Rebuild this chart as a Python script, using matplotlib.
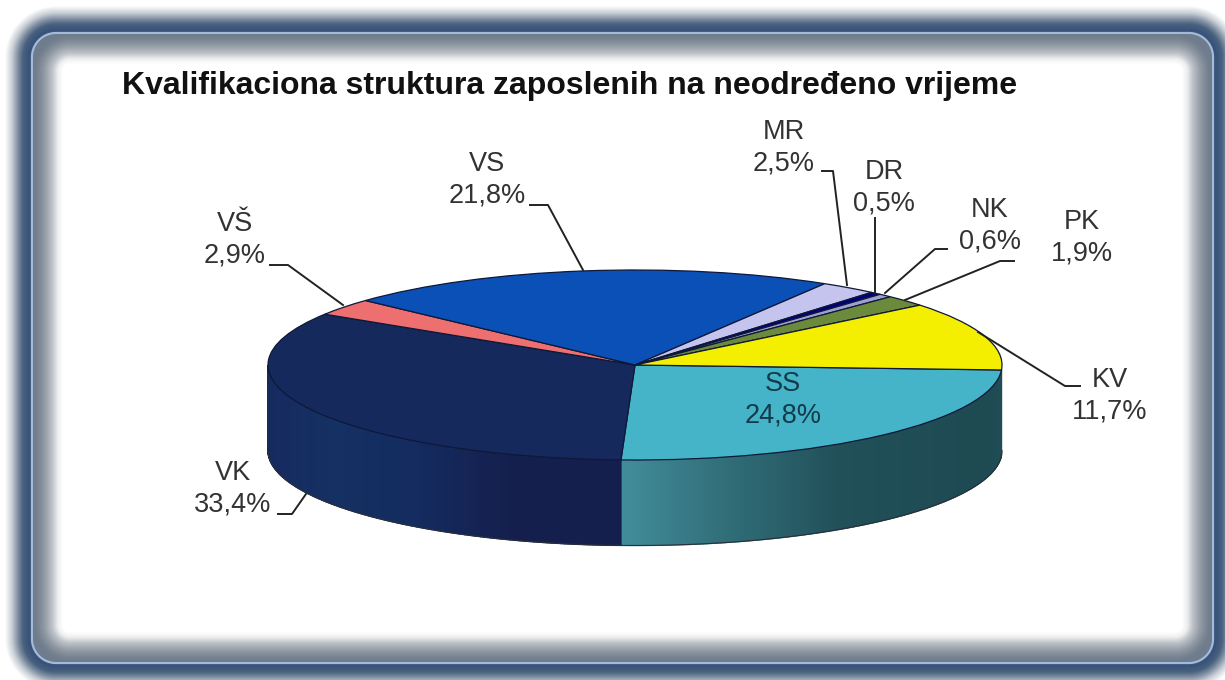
import numpy as np
import matplotlib
matplotlib.use("Agg")
import matplotlib.pyplot as plt
from matplotlib.colors import to_rgb

plt.rcParams['font.family'] = ['Liberation Sans', 'DejaVu Sans']

# data, clockwise from the right edge
labels = ['SS', 'VK', 'VŠ', 'VS', 'MR', 'DR', 'NK', 'PK', 'KV']
shares = [24.8, 33.4, 2.9, 21.8, 2.5, 0.5, 0.6, 1.9, 11.7]
title = 'Kvalifikaciona struktura zaposlenih na neodređeno vrijeme'

colors = ['#46b4c8', '#16295c', '#ee6f6f', '#0b50b6', '#c4c4ee',
          '#00007a', '#a0a0d0', '#6c8a3c', '#f4ee00']

W, H = 1225, 680
cx, cy, rx, ry = 635, 365, 367, 95
depth = 0.9
start = -3

fig = plt.figure(figsize=(W / 100, H / 100), dpi=100)

# frame: rounded box with soft shadow each side of the light line
bg = fig.add_axes([0, 0, 1, 1], zorder=0)
xx, yy = np.meshgrid(np.arange(W) + 0.5, np.arange(H) + 0.5)
x0, x1, y0, y1 = 32, 1213, 33, 663


def box_dist(rad):
    qx = np.abs(xx - (x0 + x1) / 2) - (x1 - x0) / 2 + rad
    qy = np.abs(yy - (y0 + y1) / 2) - (y1 - y0) / 2 + rad
    return np.hypot(np.maximum(qx, 0), np.maximum(qy, 0)) + np.minimum(np.maximum(qx, qy), 0) - rad


dist = box_dist(24)
# rounder contours inside so the white area has soft corners
inner = np.minimum(box_dist(38), -1.5)
dist = np.where(dist < -1.5, inner, dist)

stops_d = [-31, -26, -20, -12, -5, -1.5, -0.6, 0.6, 1.6, 3, 9, 14, 20, 27]
stops_c = ['#ffffff', '#eeeff0', '#bcc1c7', '#8f98a3', '#75818f', '#6f7c8d', '#a3bbdb', '#a3bbdb',
           '#3b5679', '#38527a', '#4a627f', '#7f8fa2', '#c8ced5', '#ffffff']
stops_rgb = np.array([to_rgb(c) for c in stops_c])
img = np.dstack([np.interp(dist, stops_d, stops_rgb[:, i]) for i in range(3)])
bg.imshow(img, extent=(0, W, H, 0), aspect='auto', interpolation='bilinear')
bg.set_axis_off()

# pie axes: one unit is rx across and ry down, which flattens the pie
pie_ax = fig.add_axes([(cx - 1.02 * rx) / W, (H - cy - 2 * ry) / H, 2.04 * rx / W, 3.1 * ry / H], zorder=1)
pie_ax.patch.set_alpha(0)


def shade(t, cols):
    pts = np.linspace(0, 1, len(cols))
    arr = np.array([to_rgb(c) for c in cols])
    return [np.interp(t, pts, arr[:, i]) for i in range(3)]


# side wall, only the front half can be seen
wall_shades = {
    'SS': ['#1f4d56', '#1e4a52', '#1f4c55', '#215059', '#2f6b75', '#428c9a'],
    'VK': ['#141f4e', '#141f4e', '#142c60', '#153062', '#162c60', '#16295c'],
}
a = start
for lab, share in zip(labels, shares):
    b = a - share / sum(shares) * 360
    if lab in wall_shades:
        steps = np.linspace(a, max(b, -180), 160)
        for i in range(len(steps) - 1):
            t = i / (len(steps) - 2)
            th = np.radians(steps[i:i + 2])
            px = np.cos(th)
            py = np.sin(th)
            c = shade(t, wall_shades[lab])
            pie_ax.fill([px[0], px[1], px[1], px[0]],
                        [py[0], py[1], py[1] - depth, py[0] - depth],
                        facecolor=c, edgecolor=c, lw=1.0, zorder=0)
    a = b

edge = np.radians(np.linspace(0, -180, 200))
pie_ax.plot(np.cos(edge), np.sin(edge) - depth, color='#2a2f3a', lw=0.8, zorder=0.5)

wedges, _ = pie_ax.pie(shares, colors=colors, startangle=start, counterclock=False,
                       normalize=True, wedgeprops={'edgecolor': '#0e1838', 'linewidth': 0.9})
pie_ax.set_aspect('auto')
pie_ax.set_xlim(-1.02, 1.02)
pie_ax.set_ylim(-2, 1.1)
pie_ax.set_axis_off()

# labels and leader lines, in picture pixels
top = fig.add_axes([0, 0, 1, 1], zorder=2)
top.set_xlim(0, W)
top.set_ylim(H, 0)
top.set_axis_off()
top.patch.set_alpha(0)

top.text(122, 86, title, fontsize=23, fontweight='bold', color='#111111', va='center', ha='left')

label_pos = {'VS': (487, 180), 'VŠ': (235, 240), 'VK': (233, 489), 'MR': (784, 148),
             'DR': (884, 188), 'NK': (990, 226), 'PK': (1082, 238), 'KV': (1110, 396),
             'SS': (783, 400)}
leaders = {
    'VS': [(530, 205), (548, 205), (583, 270)],
    'VŠ': [(270, 265), (288, 265), (343, 305)],
    'VK': [(278, 514), (292, 514), (306, 494)],
    'MR': [(822, 171), (833, 171), (847, 285)],
    'DR': [(875, 218), (875, 293)],
    'NK': [(947, 249), (935, 249), (885, 293)],
    'PK': [(1014, 261), (1000, 261), (905, 300)],
    'KV': [(1080, 386), (1065, 386), (978, 332)],
}
for lab, share in zip(labels, shares):
    txt = '%s\n%s%%' % (lab, ('%.1f' % share).replace('.', ','))
    col = '#123c4c' if lab == 'SS' else '#333333'
    top.text(*label_pos[lab], txt, fontsize=19.5, color=col, ha='center', va='center', linespacing=1.28)
    if lab in leaders:
        pts = np.array(leaders[lab])
        top.plot(pts[:, 0], pts[:, 1], color='#222222', lw=1.4)

fig.savefig('out.png', dpi=100)
